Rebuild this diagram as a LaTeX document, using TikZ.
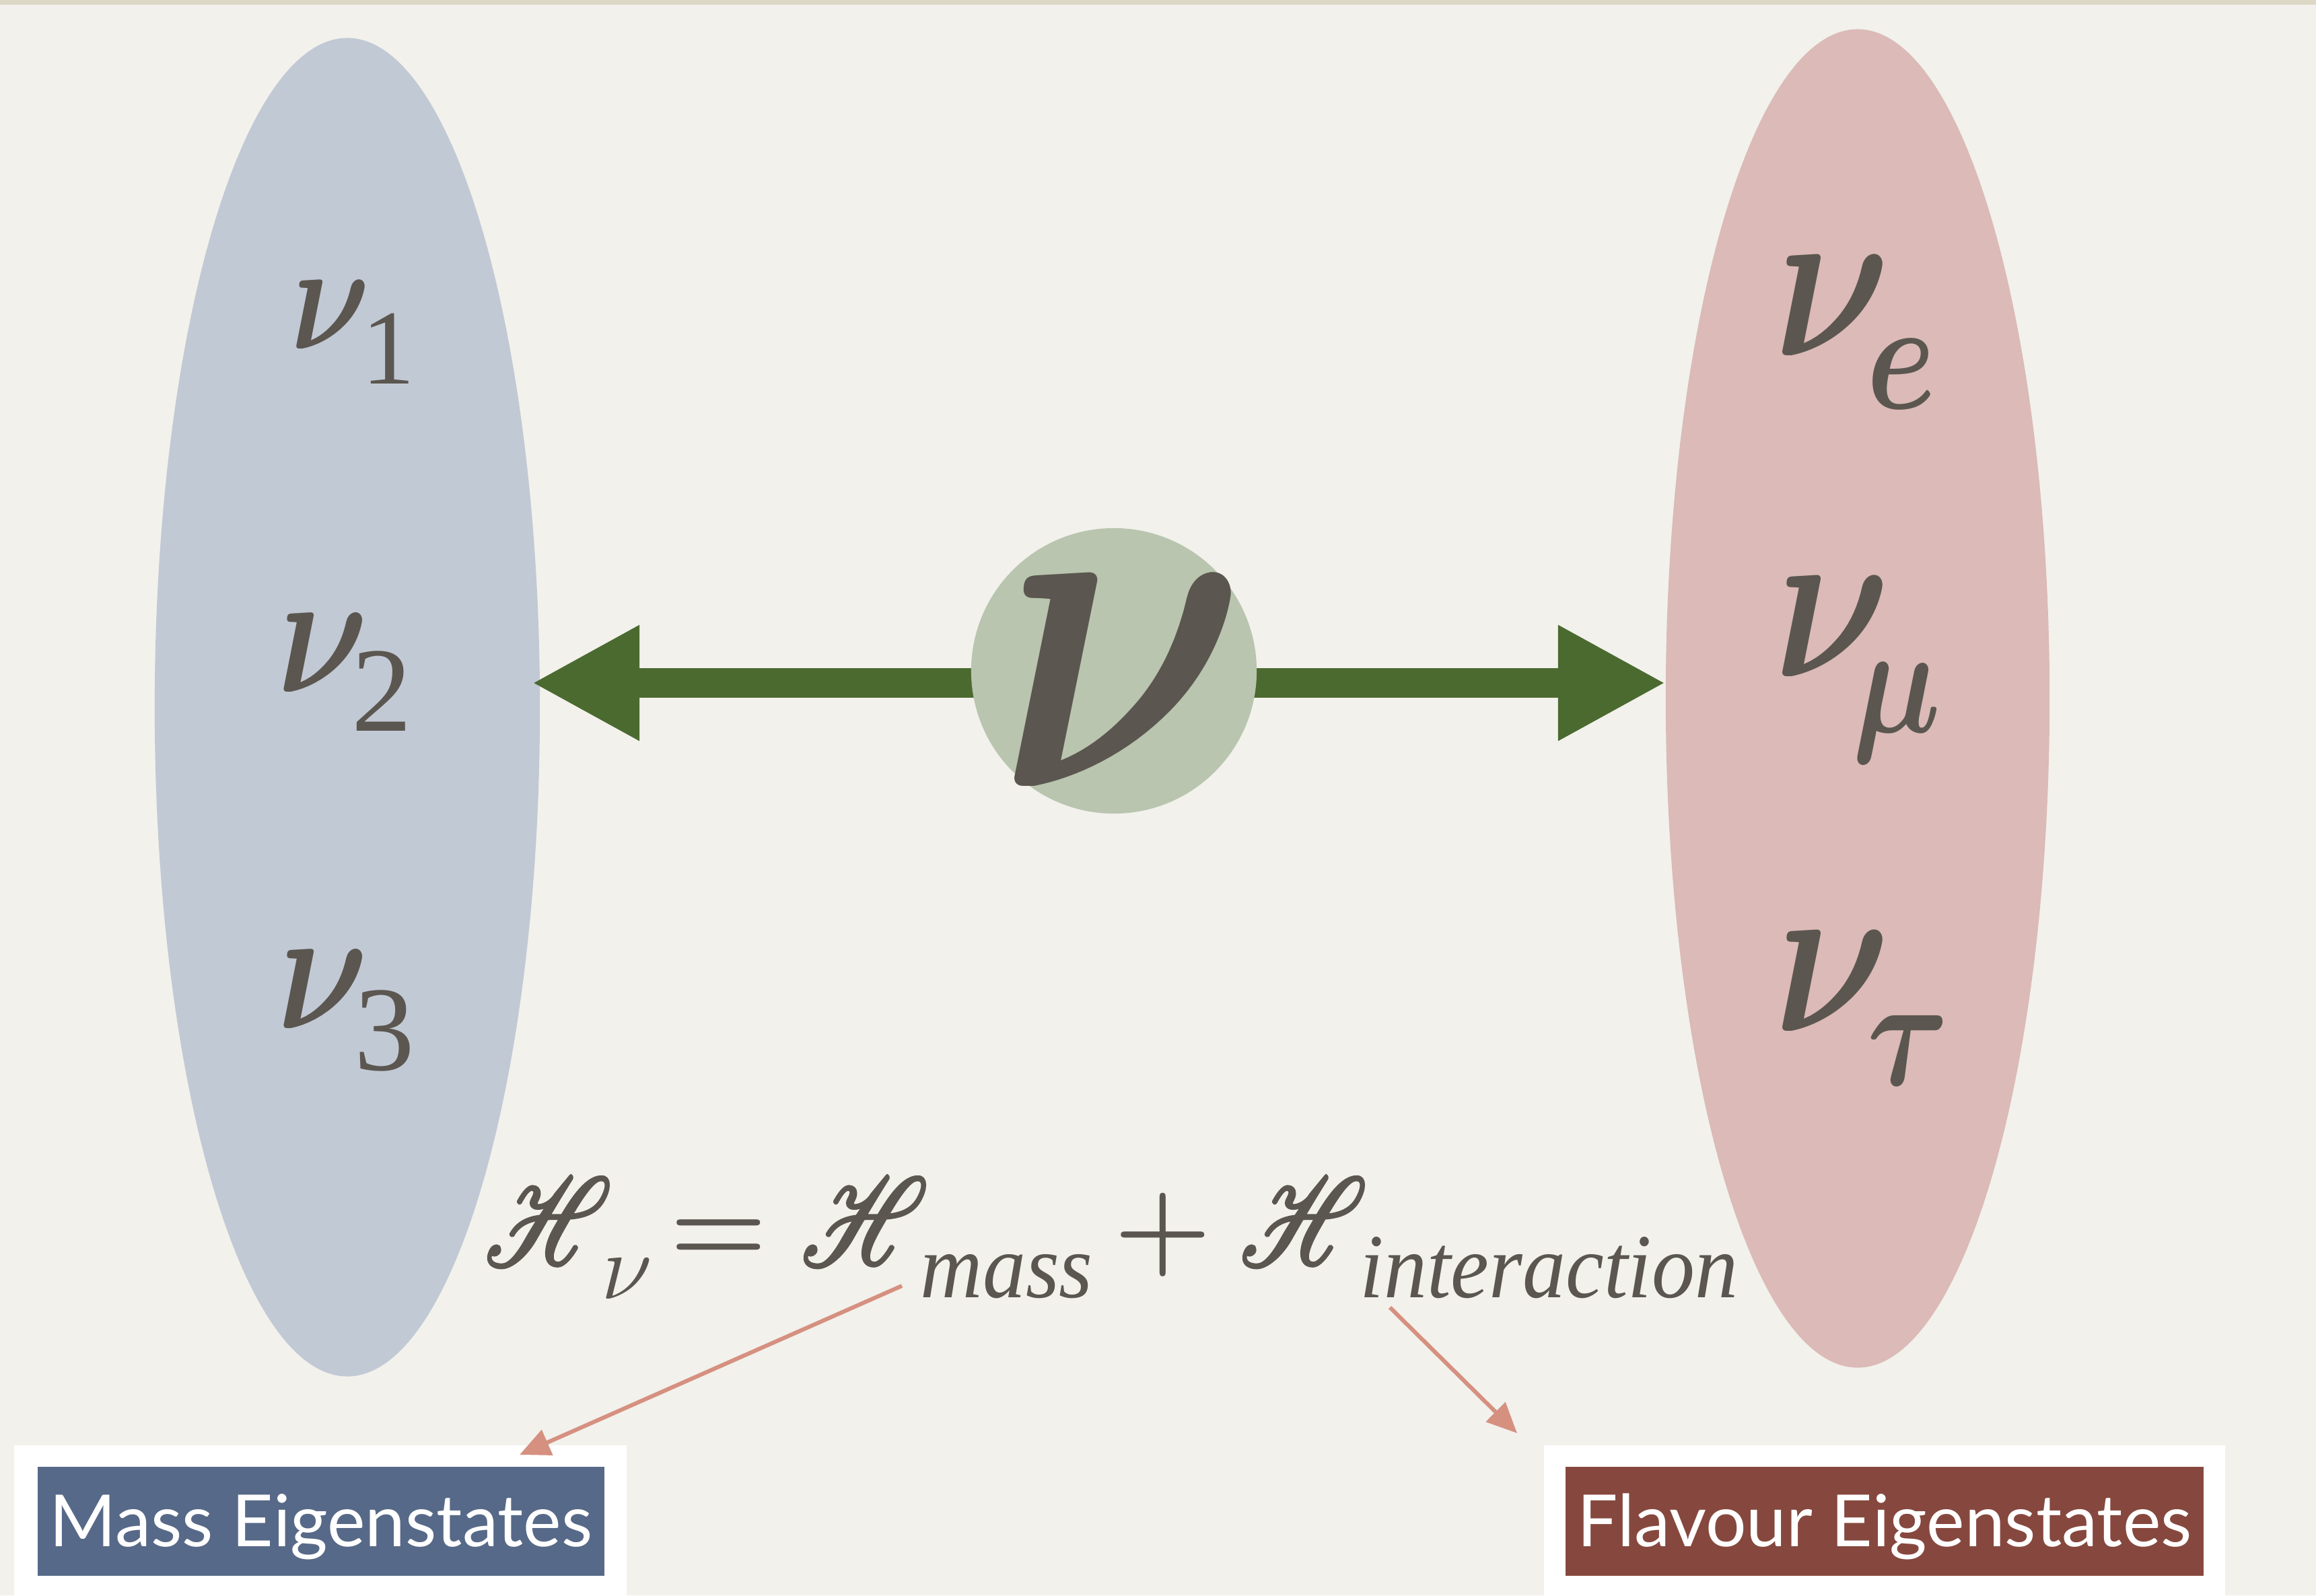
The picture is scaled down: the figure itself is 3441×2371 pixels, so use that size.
\RequirePackage{fix-cm}
\documentclass[tikz,border=0pt]{standalone}
\usepackage{fontspec}
\newfontfamily\labelfont{Lato}
\newfontfamily\subfont{Liberation Serif}
\usetikzlibrary{arrows.meta,shadows,backgrounds,shapes.geometric}
\DeclareFontFamily{U}{rsfsx}{\skewchar\font127 }
\DeclareFontShape{U}{rsfsx}{m}{n}{<-6> rsfs5 <6-8.5> rsfs7 <8.5-> rsfs10}{}
\newcommand\myscrH{\scalebox{0.8}[1]{\special{pdf:literal direct 2 Tr 1.3 w}\usefont{U}{rsfsx}{m}{n}H\special{pdf:literal direct 0 Tr}}}
\newcommand\mynu{\scalebox{0.8}[1]{$\nu$}}
% lowered subscript: drop, size, content
\newcommand\mysubd[3]{\raisebox{-#1}{\fontsize{#2}{#2}\selectfont\subfont #3}}
\newcommand\mysubm[3]{\raisebox{-#1}{\fontsize{#2}{#2}\selectfont\boldmath\scalebox{0.8}[1]{$#3$}}}
\definecolor{paper}{HTML}{F2F1EC}
\definecolor{band}{HTML}{DDD8C5}
\definecolor{ellblue}{HTML}{C1C9D4}
\definecolor{ellred}{HTML}{DBBAB7}
\definecolor{circgreen}{HTML}{B9C5AF}
\definecolor{arrgreen}{HTML}{4B6A30}
\definecolor{ink}{HTML}{5B5650}
\definecolor{salmon}{HTML}{D69080}
\definecolor{boxblue}{HTML}{576988}
\definecolor{boxred}{HTML}{86483E}
\tikzset{
  x=0.01cm, y=-0.01cm,
  txt/.style={inner sep=0pt, text=ink, anchor=base west},
  greek/.style={txt, font=\fontsize{#1}{#1}\selectfont\boldmath},
  scrh/.style={txt, font=\fontsize{52.6}{60}\selectfont},
  subtxt/.style={txt, font=\fontsize{38.7}{45}\selectfont\subfont\itshape},
  optxt/.style={txt, anchor=base, font=\fontsize{47}{55}\selectfont\bfseries},
  greenarrow/.style={draw=arrgreen, line width=0.44cm, -{Triangle[length=1.6cm,width=1.6cm]}},
  notearrow/.style={draw=salmon, line width=0.06cm, -{Triangle[length=0.45cm,width=0.40cm]}},
  whitebox/.style={fill=white, draw=none, minimum width=9.09cm, minimum height=2.6cm, inner sep=0pt,
     drop shadow={shadow xshift=0cm, shadow yshift=-0.02cm, opacity=0.25, fill=black!50}},
  labelbox/.style={draw=none, minimum height=1.62cm, inner sep=0pt, text=white,
     font=\fontsize{30.4}{36}\selectfont\labelfont, text height=0.74cm, text depth=0cm},
}
\begin{document}
\begin{tikzpicture}
\useasboundingbox (0,0) rectangle (3441,2371);
\clip (0,0) rectangle (3441,2371);
% central circle
\node[circle, fill=circgreen, minimum size=4.24cm, inner sep=0pt] (c) at (1655,997) {};
\coordinate (lt) at (790,1015);
\coordinate (rt) at (2475,1015);
\begin{pgfonlayer}{background}
  \fill[paper] (0,0) rectangle (3441,2371);
  \fill[band] (0,0) rectangle (3441,7);
  \node[ellipse, fill=ellblue, minimum width=5.72cm, minimum height=19.88cm, inner sep=0pt] (massell) at (516,1051) {};
  \node[ellipse, fill=ellred, minimum width=5.70cm, minimum height=19.88cm, inner sep=0pt] (flavell) at (2760,1038) {};
  \draw[greenarrow] (c.center |- lt) -- (lt);
  \draw[greenarrow] (c.center |- rt) -- (rt);
\end{pgfonlayer}
% neutrino in circle
\node[greek=200, anchor=base] (nuc) at (1668,1168) {\scalebox{0.82}[1]{$\nu$}};
% mass eigenstates
\node[greek=64.7] (n1) at (432,518) {\mynu\kern-0.13cm\mysubd{0.52cm}{45}{1}};
\node[greek=74.3] (n2) at (412,1028) {\mynu\kern-0.25cm\mysubd{0.58cm}{51}{2}};
\node[greek=74.3] (n3) at (412,1528) {\mynu\kern-0.21cm\mysubd{0.62cm}{51}{3}};
% flavour eigenstates
\node[greek=94.8] (ne) at (2636,528) {\mynu\kern-0.35cm\mysubm{0.79cm}{66}{e}};
\node[greek=94.8] (nm) at (2636,1005) {\mynu\kern-0.56cm\mysubm{0.83cm}{66}{\mu}};
\node[greek=94.8] (nt) at (2636,1532) {\mynu\kern-0.34cm\mysubm{0.80cm}{66}{\tau}};
% Hamiltonian
\node[scrh] (h1) at (720,1880) {\myscrH};
\node[txt, font=\fontsize{39.5}{45}\selectfont] (h1s) at (893,1930) {$\nu$};
\node[optxt] (eq) at (1068,1876) {=};
\node[scrh] (h2) at (1190,1880) {\myscrH};
\node[subtxt] (hmass) at (1367,1928) {\scalebox{0.94}[1]{mass}};
\node[optxt] (plus) at (1728,1876) {+};
\node[scrh] (h3) at (1842,1880) {\myscrH};
\node[subtxt] (hint) at (2020,1928) {\scalebox{0.94}[1]{interaction}};
% label boxes
\node[whitebox] (mwb) at (476,2278) {};
\node[labelbox, fill=boxblue, minimum width=8.42cm] (mlab) at (477,2261) {Mass Eigenstates};
\node[whitebox, minimum width=10.12cm] (fwb) at (2800,2278) {};
\node[labelbox, fill=boxred, minimum width=9.48cm] (flab) at (2800,2261) {Flavour Eigenstates};
% note arrows
\coordinate (a1s) at (1340,1911);
\coordinate (a1e) at (772,2162);
\coordinate (a2s) at (2065,1943);
\coordinate (a2e) at (2254,2130);
\draw[notearrow] (a1s) -- (a1e);
\draw[notearrow] (a2s) -- (a2e);
\end{tikzpicture}
\end{document}
